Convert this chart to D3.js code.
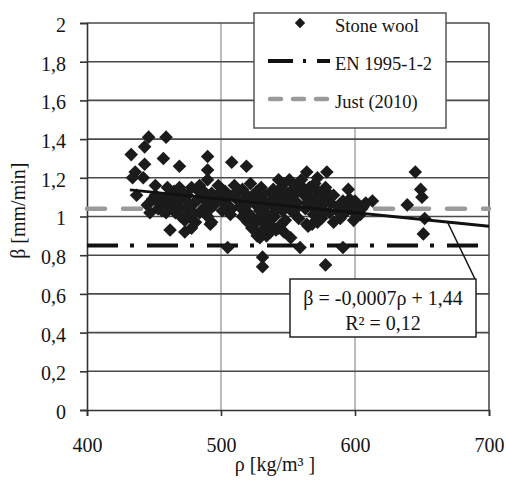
<!DOCTYPE html>
<html>
<head>
<meta charset="utf-8">
<script src="https://cdn.jsdelivr.net/npm/d3@7/dist/d3.min.js"></script>
<style>
  html, body { margin: 0; padding: 0; background: #fff; }
  svg { display: block; }
  svg text { font-family: "Liberation Serif", "Times New Roman", "DejaVu Serif", serif !important; }
</style>
</head>
<body>
<svg id="chart" width="506" height="480"></svg>
<script>
// Stone wool charring rate measurements: density ρ [kg/m³] and charring rate β [mm/min]
const stoneWoolRho = [
  433, 446, 459, 443, 436, 443, 457, 469, 434, 442, 451, 437, 449, 455, 462, 473, 478, 492,
  490, 490, 490, 508, 519, 505, 543, 531, 531, 559, 578, 552, 564, 591, 564, 579, 572, 595,
  613, 602, 599, 591, 565, 580, 645, 649, 650, 639, 652, 651, 516, 493, 527, 534, 529, 537,
  445, 447, 451, 453, 457, 459, 462, 463, 466, 469, 471, 474, 475, 477, 480, 482, 484, 486,
  488, 490, 493, 495, 481, 473, 484, 466, 460,
  498, 499, 501, 503, 505, 507, 510, 511, 514, 516, 519, 520, 522, 524, 526, 528, 530, 531,
  533, 535, 537, 538, 540, 542, 543, 545, 546, 548, 549, 551, 552, 554, 555, 557, 558, 525,
  531, 520, 541, 547,
  560, 562, 563, 566, 567, 569, 570, 572, 574, 575, 578, 579, 581, 584, 587, 589, 593, 596,
  598, 601, 605, 608, 604, 584, 572, 568,
  452, 456, 461, 465, 468, 472, 476, 479, 483, 487, 489, 492, 496, 478, 470,
  500, 502, 506, 508, 512, 513, 517, 518, 521, 523, 527, 528, 529, 532, 534, 536, 539, 539,
  541, 544, 544, 547, 550, 550, 553, 556, 556, 523, 532, 538, 545,
  561, 564, 565, 568, 571, 571, 573, 576, 577, 582, 588, 591, 594, 597, 600, 602, 606
];
const stoneWoolBeta = [
  1.32, 1.41, 1.41, 1.36, 1.23, 1.27, 1.30, 1.26, 1.20, 1.20, 1.16, 1.11, 1.09, 1.05, 0.93, 0.92, 0.94, 0.96,
  1.31, 1.24, 1.19, 1.28, 1.26, 0.84, 1.19, 0.79, 0.74, 0.84, 0.75, 0.89, 0.96, 0.84, 1.23, 1.23, 1.20, 1.14,
  1.08, 1.01, 0.98, 1.01, 0.95, 1.12, 1.23, 1.14, 1.10, 1.06, 0.99, 0.91, 1.00, 0.97, 0.90, 0.90, 0.89, 0.92,
  1.06, 1.02, 1.11, 1.04, 1.09, 1.02, 1.11, 1.06, 1.02, 1.15, 1.09, 1.04, 1.11, 1.00, 1.07, 1.14, 1.02, 1.10,
  1.05, 1.00, 1.12, 1.06, 0.97, 0.98, 1.16, 1.10, 1.15,
  1.16, 1.10, 1.03, 1.13, 1.06, 1.01, 1.16, 1.10, 1.05, 1.14, 1.09, 1.02, 1.17, 1.11, 1.06, 0.99, 1.15, 1.09,
  1.02, 0.96, 1.12, 1.06, 1.00, 1.10, 0.94, 1.15, 1.03, 0.98, 1.09, 1.19, 1.13, 1.02, 1.16, 1.07, 0.99, 0.96,
  0.93, 0.97, 0.93, 0.92,
  1.19, 1.11, 1.04, 1.15, 1.09, 1.01, 1.17, 1.11, 1.05, 0.99, 1.15, 1.08, 1.02, 1.11, 1.05, 0.99, 1.06, 1.09,
  1.03, 1.06, 1.04, 1.07, 1.01, 0.97, 0.97, 0.96,
  1.08, 1.03, 1.08, 1.13, 1.05, 1.12, 1.07, 1.02, 1.09, 1.13, 1.08, 1.04, 1.10, 1.15, 1.00,
  1.13, 1.07, 1.11, 1.04, 1.13, 1.08, 1.04, 1.12, 1.07, 1.00, 1.13, 1.09, 1.03, 1.12, 1.06, 0.99, 1.14, 1.09,
  1.03, 1.12, 1.07, 1.17, 1.05, 1.11, 1.08, 1.12, 1.04, 0.94, 0.97, 0.95, 0.96,
  1.15, 1.07, 1.13, 1.06, 1.14, 1.03, 1.08, 1.12, 1.03, 1.07, 1.02, 1.08, 1.03, 1.05, 1.08, 1.03, 1.05
];

// Reference design values
const en1995Beta = 0.85;
const just2010Beta = 1.04;

// Linear trend: β = -0,0007ρ + 1,44 (R² = 0,12)
const trendSlope = -0.0007;
const trendIntercept = 1.44;
const trendRhoRange = [432, 700];
const trendCalloutRho = 669;
const trendLabels = ["β = -0,0007ρ + 1,44", "R² = 0,12"];

// Axes
const xDomain = [400, 700];
const yDomain = [0, 2];
const xTicks = [400, 500, 600, 700];
const yTicks = [0, 0.2, 0.4, 0.6, 0.8, 1, 1.2, 1.4, 1.6, 1.8, 2];
const yTickLabels = ["0", "0,2", "0,4", "0,6", "0,8", "1", "1,2", "1,4", "1,6", "1,8", "2"];
const xTitle = "ρ [kg/m³ ]";
const yTitle = "β [mm/min]";
const legendLabels = ["Stone wool", "EN 1995-1-2", "Just (2010)"];

const svg = d3.select("#chart");
const x = d3.scaleLinear().domain(xDomain).range([87, 489]);
const y = d3.scaleLinear().domain(yDomain).range([410, 23]);

const fontSize = 20;
const legendFontSize = 18.5;
const textColor = "#141414";
const gridDark = "#4a4a4a";
const gridLight = "#a6a6a6";
const markColor = "#1b1b1b";
const justColor = "#9a9a9a";

// Vertical gridlines
svg.append("g").selectAll("line").data(xTicks.slice(1, -1)).join("line")
  .attr("x1", d => x(d)).attr("x2", d => x(d))
  .attr("y1", y(yDomain[0])).attr("y2", y(yDomain[1]))
  .attr("stroke", gridLight).attr("stroke-width", 1.5);

// Horizontal gridlines
svg.append("g").selectAll("line").data(yTicks.slice(1)).join("line")
  .attr("x1", x(xDomain[0])).attr("x2", x(xDomain[1]))
  .attr("y1", d => y(d)).attr("y2", d => y(d))
  .attr("stroke", gridDark).attr("stroke-width", 1.6);

// Right plot border
svg.append("line")
  .attr("x1", x(xDomain[1])).attr("x2", x(xDomain[1]))
  .attr("y1", y(yDomain[0])).attr("y2", y(yDomain[1]))
  .attr("stroke", gridDark).attr("stroke-width", 1.6);

// Y axis
const yAxis = svg.append("g")
  .attr("transform", `translate(${x(xDomain[0])},0)`)
  .call(d3.axisLeft(y).tickValues(yTicks).tickSize(7).tickPadding(14)
    .tickFormat((d, i) => yTickLabels[i]));
yAxis.selectAll("line, path").attr("stroke", "#333").attr("stroke-width", 1.6);
yAxis.selectAll("text").attr("font-size", fontSize).attr("fill", textColor).attr("dy", "0.42em");

// X axis
const xAxis = svg.append("g")
  .attr("transform", `translate(0,${y(yDomain[0])})`)
  .call(d3.axisBottom(x).tickValues(xTicks).tickSize(6).tickPadding(22).tickFormat(d3.format("d")));
xAxis.selectAll("line, path").attr("stroke", "#333").attr("stroke-width", 1.6);
xAxis.selectAll("text").attr("font-size", fontSize).attr("fill", textColor);

// Just (2010) reference line (behind the measurements)
svg.append("line")
  .attr("x1", x(xDomain[0])).attr("x2", x(xDomain[1]))
  .attr("y1", y(just2010Beta)).attr("y2", y(just2010Beta))
  .attr("stroke", justColor).attr("stroke-width", 4.5)
  .attr("stroke-dasharray", "18,18").attr("stroke-linecap", "round");

// EN 1995-1-2 reference line
svg.append("line")
  .attr("x1", x(xDomain[0])).attr("x2", x(xDomain[1]))
  .attr("y1", y(en1995Beta)).attr("y2", y(en1995Beta))
  .attr("stroke", "#111").attr("stroke-width", 4)
  .attr("stroke-dasharray", "31,12,4,13");

// Measurement diamonds
const diamond = r => `M0,${-r}L${r},0L0,${r}L${-r},0Z`;
svg.append("g").selectAll("path").data(d3.range(stoneWoolRho.length)).join("path")
  .attr("transform", i => `translate(${x(stoneWoolRho[i])},${y(stoneWoolBeta[i])})`)
  .attr("d", diamond(6.8))
  .attr("fill", markColor);

// Trend line
const trend = r => trendSlope * r + trendIntercept;
svg.append("line")
  .attr("x1", x(trendRhoRange[0])).attr("y1", y(trend(trendRhoRange[0])))
  .attr("x2", x(trendRhoRange[1])).attr("y2", y(trend(trendRhoRange[1])))
  .attr("stroke", "#111").attr("stroke-width", 3);

// Trend equation callout
const box = { x: 290, y: 279, w: 186, h: 58 };
svg.append("line")
  .attr("x1", x(trendCalloutRho)).attr("y1", y(trend(trendCalloutRho)))
  .attr("x2", box.x + box.w - 1).attr("y2", box.y)
  .attr("stroke", "#111").attr("stroke-width", 1.5);
svg.append("rect")
  .attr("x", box.x).attr("y", box.y).attr("width", box.w).attr("height", box.h)
  .attr("fill", "#fff").attr("stroke", "#222").attr("stroke-width", 1.5);
svg.append("g").selectAll("text").data(trendLabels).join("text")
  .attr("x", box.x + box.w / 2).attr("y", (d, i) => box.y + 26 + i * 25)
  .attr("text-anchor", "middle").attr("font-size", fontSize).attr("fill", textColor)
  .text(d => d);

// Legend
const legend = svg.append("g");
legend.append("rect")
  .attr("x", 254).attr("y", 13).attr("width", 192).attr("height", 115)
  .attr("fill", "#fff").attr("stroke", "#555").attr("stroke-width", 1.5);
legend.append("path").attr("d", diamond(5.2))
  .attr("transform", "translate(300,23)").attr("fill", markColor);
legend.append("line").attr("x1", 268).attr("x2", 330).attr("y1", 61).attr("y2", 61)
  .attr("stroke", "#111").attr("stroke-width", 4).attr("stroke-dasharray", "25,10,3,11");
legend.append("line").attr("x1", 270).attr("x2", 328).attr("y1", 99).attr("y2", 99)
  .attr("stroke", justColor).attr("stroke-width", 4.5).attr("stroke-dasharray", "11,12")
  .attr("stroke-linecap", "round");
legend.selectAll("text").data(legendLabels).join("text")
  .attr("x", 335).attr("y", (d, i) => 32 + i * 38)
  .attr("font-size", legendFontSize).attr("fill", textColor)
  .text(d => d);

// Axis titles
svg.append("text")
  .attr("x", x(xDomain[0]) + (x(xDomain[1]) - x(xDomain[0])) / 2 - 13).attr("y", 471)
  .attr("text-anchor", "middle").attr("font-size", fontSize).attr("fill", textColor)
  .text(xTitle);
svg.append("text")
  .attr("transform", `translate(25,${y(1.03)}) rotate(-90)`)
  .attr("text-anchor", "middle").attr("font-size", fontSize).attr("fill", textColor)
  .text(yTitle);
</script>
</body>
</html>
